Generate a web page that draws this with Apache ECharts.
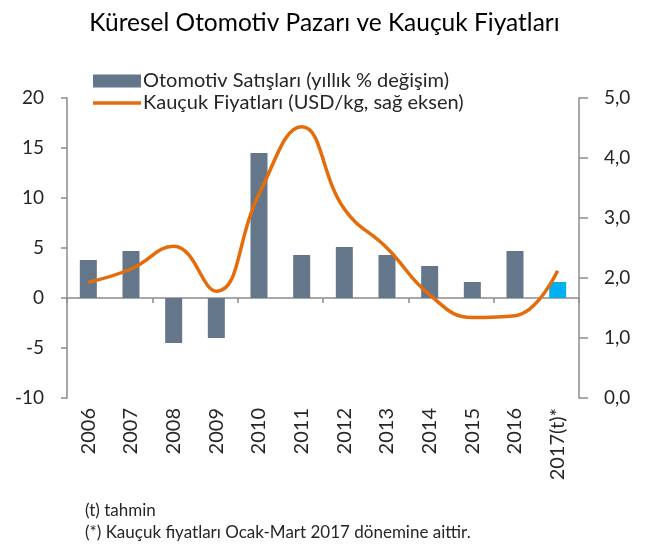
<!DOCTYPE html>
<html>
<head>
<meta charset="utf-8">
<script src="https://cdn.jsdelivr.net/npm/echarts@6/dist/echarts.min.js"></script>
<style>html,body{margin:0;padding:0;background:#fff}#c{width:649px;height:546px}</style>
</head>
<body>
<div id="c"></div>
<script>
const titleText = 'Küresel Otomotiv Pazarı ve Kauçuk Fiyatları';
const categories = ['2006','2007','2008','2009','2010','2011','2012','2013','2014','2015','2016','2017(t)*'];
const salesName = 'Otomotiv Satışları (yıllık % değişim)';
const rubberName = 'Kauçuk Fiyatları (USD/kg, sağ eksen)';
const salesValues = [3.8, 4.7, -4.5, -4.0, 14.5, 4.3, 5.1, 4.3, 3.2, 1.6, 4.7, 1.6];
const rubberValues = [1.93, 2.15, 2.53, 1.78, 3.4, 4.52, 3.15, 2.5, 1.72, 1.34, 1.37, 2.12];
const footnotes = ['(t) tahmin', '(*) Kauçuk fiyatları Ocak-Mart 2017 dönemine aittir.'];

const FONT = 'Lato';
const barColor = '#64768a';
const forecastColor = '#00b0f0';
const lineColor = '#e46c0a';
const axisColor = '#8c8c8c';
const textColor = '#262626';

const chart = echarts.init(document.getElementById('c'), null, {renderer: 'canvas'});
chart.setOption({
  backgroundColor: '#fff',
  animation: false,
  textStyle: {fontFamily: FONT},
  title: {
    text: titleText, left: 'center', top: 6,
    textStyle: {fontFamily: FONT, fontSize: 24.5, fontWeight: 'normal', color: '#000'}
  },
  legend: [
    {
      left: 88, top: 66, itemWidth: 48, itemHeight: 13,
      textStyle: {fontFamily: FONT, fontSize: 20, color: textColor, padding: [0,0,0,-3]},
      data: [{name: salesName, icon: 'rect'}]
    },
    {
      left: 88, top: 88, itemWidth: 48, itemHeight: 3.5,
      textStyle: {fontFamily: FONT, fontSize: 20, color: textColor, padding: [0,0,0,-3]},
      data: [{name: rubberName, icon: 'rect'}]
    }
  ],
  grid: {left: 67, right: 70, top: 98, bottom: 148},
  xAxis: [
    {
      type: 'category', data: categories, position: 'bottom',
      axisLine: {onZero: true, lineStyle: {color: axisColor, width: 1.5}},
      axisTick: {show: true, length: 5, lineStyle: {color: axisColor, width: 1.5}},
      axisLabel: {show: false}
    },
    {
      type: 'category', data: categories, position: 'bottom',
      axisLine: {show: false, onZero: false}, axisTick: {show: false},
      axisLabel: {rotate: 90, fontFamily: FONT, fontSize: 20, color: textColor, margin: 10}
    }
  ],
  yAxis: [
    {
      type: 'value', min: -10, max: 20, interval: 5, position: 'left',
      axisLine: {show: true, lineStyle: {color: axisColor, width: 1.5}},
      axisTick: {show: true, length: 6, lineStyle: {color: axisColor, width: 1.5}},
      axisLabel: {fontFamily: FONT, fontSize: 19, color: textColor, margin: 23},
      splitLine: {show: false}
    },
    {
      type: 'value', min: 0, max: 5, interval: 1, position: 'right',
      axisLine: {show: true, lineStyle: {color: axisColor, width: 1.5}},
      axisTick: {show: true, length: 9, lineStyle: {color: axisColor, width: 1.5}},
      axisLabel: {fontFamily: FONT, fontSize: 19, color: textColor, margin: 25,
        formatter: v => v.toFixed(1).replace('.', ',')},
      splitLine: {show: false}
    }
  ],
  series: [
    {
      name: salesName, type: 'bar', xAxisIndex: 0, yAxisIndex: 0, barWidth: 17,
      itemStyle: {color: barColor},
      data: salesValues.map((v, i) => i === salesValues.length - 1 ? {value: v, itemStyle: {color: forecastColor}} : v)
    },
    {
      name: rubberName, type: 'line', xAxisIndex: 0, yAxisIndex: 1,
      smooth: 0.45, symbol: 'none', showSymbol: false,
      lineStyle: {color: lineColor, width: 3.5}, itemStyle: {color: lineColor},
      data: rubberValues, z: 5
    }
  ],
  graphic: [
    {type: 'text', left: 85, top: 502, style: {text: footnotes[0], font: '17px ' + FONT, fill: textColor}},
    {type: 'text', left: 85, top: 524, style: {text: footnotes[1], font: '17px ' + FONT, fill: textColor}}
  ]
});
</script>
</body>
</html>
